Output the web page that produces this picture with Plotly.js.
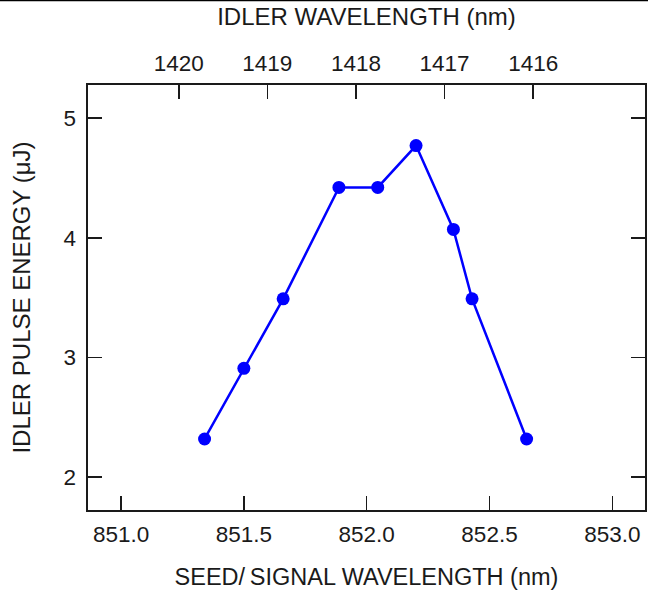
<!DOCTYPE html>
<html>
<head>
<meta charset="utf-8">
<script src="https://cdn.plot.ly/plotly-3.0.1.min.js"></script>
<style>
  html, body { margin: 0; padding: 0; background: #fff; }
  #chart { width: 652px; height: 590px; }
</style>
</head>
<body>
<div id="chart"></div>
<script>
// Seed / signal wavelength (nm) and measured idler pulse energy (uJ)
const seedWavelength = [851.34, 851.50, 851.66, 851.887, 852.045, 852.201, 852.353, 852.429, 852.651];
const idlerEnergy    = [2.32, 2.91, 3.49, 4.42, 4.42, 4.77, 4.07, 3.49, 2.32];

// Bottom axis ticks
const seedTicks = [851.0, 851.5, 852.0, 852.5, 853.0];
const seedTickText = ['851.0', '851.5', '852.0', '852.5', '853.0'];

// Matching idler wavelength scale on top
const idlerTicks = [1420, 1419, 1418, 1417, 1416];
const idlerTickText = ['1420', '1419', '1418', '1417', '1416'];

// Energy ticks
const energyTicks = [2, 3, 4, 5];

const FONT = 'Arial, "Liberation Sans", Helvetica, sans-serif';
const INK = '#1a1a1a';
const TICK_SIZE = 22.5;
const TITLE_SIZE = 24;

const traces = [
  {
    x: seedWavelength,
    y: idlerEnergy,
    type: 'scatter',
    mode: 'lines+markers',
    line: { color: '#0000ff', width: 2.5 },
    marker: { color: '#0000ff', size: 13 },
    xaxis: 'x',
    yaxis: 'y',
    showlegend: false,
    hoverinfo: 'x+y'
  },
  {
    // empty trace that anchors the top idler axis
    x: [],
    y: [],
    type: 'scatter',
    mode: 'markers',
    xaxis: 'x2',
    yaxis: 'y',
    showlegend: false,
    hoverinfo: 'skip'
  }
];

const layout = {
  width: 652,
  height: 590,
  margin: { l: 88, r: 7, t: 85, b: 80, pad: 0 },
  paper_bgcolor: '#ffffff',
  plot_bgcolor: '#ffffff',
  font: { family: FONT, color: INK, size: TICK_SIZE },
  showlegend: false,
  xaxis: {
    range: [850.8655, 853.133],
    tickvals: seedTicks,
    ticktext: seedTickText,
    ticks: 'inside',
    ticklen: 14,
    tickwidth: 1.6,
    tickcolor: INK,
    showline: true,
    linecolor: INK,
    linewidth: 1.6,
    mirror: true,
    showgrid: false,
    zeroline: false,
    tickfont: { family: FONT, size: TICK_SIZE, color: INK },
    ticklabelstandoff: 3,
    title: {
      text: 'SEED/\u2009SIGNAL WAVELENGTH (nm)',
      font: { family: FONT, size: 23.5, color: INK },
      standoff: 24
    }
  },
  xaxis2: {
    overlaying: 'x',
    side: 'top',
    anchor: 'y',
    range: [1421.024, 1414.738],
    tickvals: idlerTicks,
    ticktext: idlerTickText,
    ticks: 'inside',
    ticklen: 14,
    tickwidth: 1.6,
    tickcolor: INK,
    showline: false,
    showgrid: false,
    zeroline: false,
    tickfont: { family: FONT, size: TICK_SIZE, color: INK },
    ticklabelstandoff: 9,
    title: {
      text: 'IDLER WAVELENGTH (nm)',
      font: { family: FONT, size: TITLE_SIZE, color: INK },
      standoff: 18
    }
  },
  yaxis: {
    range: [1.727, 5.2755],
    tickvals: energyTicks,
    ticks: 'inside',
    ticklen: 14,
    tickwidth: 1.6,
    tickcolor: INK,
    showline: true,
    linecolor: INK,
    linewidth: 1.6,
    mirror: 'ticks',
    showgrid: false,
    zeroline: false,
    tickfont: { family: FONT, size: TICK_SIZE, color: INK },
    ticklabelstandoff: 6,
    title: {
      text: 'IDLER PULSE ENERGY (\u03bcJ)',
      font: { family: FONT, size: TITLE_SIZE, color: INK },
      standoff: 26
    }
  },
  shapes: [
    {
      // thin rule across the very top of the figure
      type: 'line',
      xref: 'paper', yref: 'paper',
      x0: -88 / 557, x1: (648 - 88) / 557,
      y0: 1 + 84.6 / 425, y1: 1 + 84.6 / 425,
      line: { color: '#000000', width: 1.5 }
    }
  ]
};

Plotly.newPlot('chart', traces, layout, { displayModeBar: false, staticPlot: true });
</script>
</body>
</html>
